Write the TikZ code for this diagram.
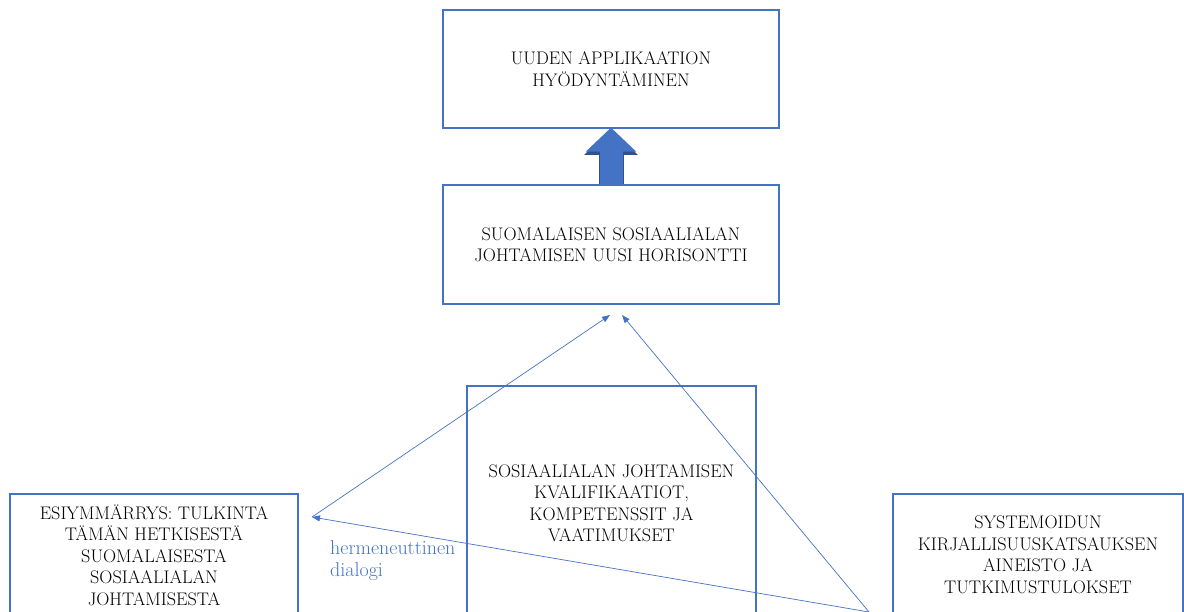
\documentclass[tikz,border=0pt]{standalone}
\usepackage{xcolor}
\usetikzlibrary{arrows.meta,positioning}
\definecolor{kblue}{HTML}{4472C4}
\definecolor{kdark}{HTML}{2F528F}

\begin{document}
\begin{tikzpicture}[x=1pt, y=-1pt, >=Stealth,
  box/.style={rectangle, draw=kblue, line width=1.6pt, align=center, inner sep=0pt,
    font=\fontsize{18.2}{21.5}\selectfont},
  thin/.style={draw=kblue, line width=0.7pt, -{Triangle[length=8pt,width=6pt]}}]
  \useasboundingbox (0,0) rectangle (1184,611);
  \clip (0,0) rectangle (1184,611);
  % upper boxes
  \node[box, minimum width=336, minimum height=118] (app) at (611,69)
    {UUDEN APPLIKAATION\\HYÖDYNTÄMINEN};
  \node[box, minimum width=336, minimum height=119] (hor) at (611,244.5)
    {SUOMALAISEN SOSIAALIALAN\\JOHTAMISEN UUSI HORISONTTI};
  \draw[kdark, line width=25pt, -{Triangle[width=52pt,length=26pt]}] (hor.north) -- (app.south);
  \draw[kblue, line width=23pt, shorten <=0.6pt, -{Triangle[width=49pt,length=24pt]}]
    (hor.north) -- ([yshift=1.2pt]app.south);
  % lower boxes
  \node[box, minimum width=289, minimum height=234] (kval) at (611.5,503)
    {SOSIAALIALAN JOHTAMISEN\\KVALIFIKAATIOT,\\KOMPETENSSIT JA\\VAATIMUKSET};
  \node[box, minimum width=288, minimum height=122] (esi) at (154,555)
    {ESIYMMÄRRYS: TULKINTA\\TÄMÄN HETKISESTÄ\\SUOMALAISESTA\\SOSIAALIALAN\\JOHTAMISESTA};
  \node[box, minimum width=290, minimum height=122] (sys) at (1038,555)
    {SYSTEMOIDUN\\KIRJALLISUUSKATSAUKSEN\\AINEISTO JA\\TUTKIMUSTULOKSET};
  % dialogue
  \coordinate (src) at (869,612);
  \coordinate (dlg) at (312,517);
  \coordinate (horl) at (610,315);
  \coordinate (horr) at (622,315);
  \draw[thin] (src) -- (dlg);
  \draw[thin] (dlg) -- (horl);
  \draw[thin] (src) -- (horr);
  \node[anchor=west, align=left, inner sep=0pt, text=kblue,
    font=\fontsize{20}{22}\selectfont] (herm) at (330,561) {hermeneuttinen\\dialogi};
\end{tikzpicture}
\end{document}
